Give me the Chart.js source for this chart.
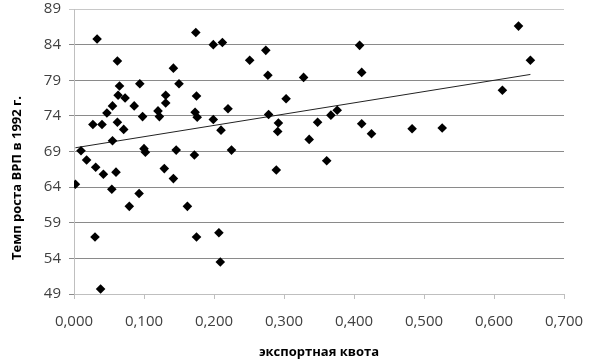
<!DOCTYPE html>
<html>
<head>
<meta charset="utf-8">
<script src="https://cdn.jsdelivr.net/npm/chart.js@4"></script>
<style>
  html, body { margin: 0; padding: 0; background: #fff; }
  #wrap { width: 600px; height: 360px; }
</style>
</head>
<body>
<div id="wrap"><canvas id="scatter"></canvas></div>
<script>
// export quota (x) and GRP growth rate in 1992 (y)
const exportQuota = [
  0.010, 0.033, 0.027, 0.040, 0.062, 0.047, 0.055, 0.065, 0.063, 0.073,
  0.062, 0.071, 0.055, 0.086, 0.094, 0.098, 0.100, 0.102, 0.120, 0.122,
  0.131, 0.131, 0.142, 0.150, 0.146, 0.018, 0.031, 0.042, 0.060, 0.002,
  0.054, 0.093, 0.079, 0.030, 0.038, 0.129, 0.142, 0.162, 0.174, 0.199,
  0.212, 0.251, 0.274, 0.277, 0.328, 0.175, 0.173, 0.176, 0.199, 0.210,
  0.220, 0.225, 0.172, 0.278, 0.292, 0.291, 0.303, 0.289, 0.175, 0.207,
  0.209, 0.408, 0.411, 0.348, 0.336, 0.367, 0.376, 0.411, 0.425, 0.483,
  0.526, 0.361, 0.635, 0.652, 0.612
];
const grpGrowth = [
  69.1, 84.8, 72.8, 72.8, 81.7, 74.4, 75.4, 78.2, 76.9, 76.5,
  73.1, 72.1, 70.5, 75.4, 78.5, 73.9, 69.4, 68.9, 74.7, 73.9,
  76.9, 75.8, 80.7, 78.5, 69.2, 67.8, 66.8, 65.8, 66.1, 64.4,
  63.7, 63.1, 61.3, 57.0, 49.7, 66.6, 65.2, 61.3, 85.7, 84.0,
  84.3, 81.8, 83.2, 79.7, 79.4, 76.8, 74.5, 73.8, 73.5, 72.0,
  75.0, 69.2, 68.5, 74.2, 73.0, 71.8, 76.4, 66.4, 57.0, 57.6,
  53.5, 83.9, 80.1, 73.1, 70.7, 74.1, 74.8, 72.9, 71.5, 72.2,
  72.3, 67.7, 86.6, 81.8, 77.6
];

const xTicks = [0, 0.1, 0.2, 0.3, 0.4, 0.5, 0.6, 0.7];
const yTicks = [49, 54, 59, 64, 69, 74, 79, 84, 89];

const xTitle = 'экспортная квота';
const yTitle = 'Темп роста ВРП в 1992 г.';

// linear trend (least squares), like the Excel trendline
function trend(xs, ys) {
  const n = xs.length;
  let sx = 0, sy = 0, sxx = 0, sxy = 0;
  for (let i = 0; i < n; i++) {
    sx += xs[i]; sy += ys[i]; sxx += xs[i] * xs[i]; sxy += xs[i] * ys[i];
  }
  const b = (n * sxy - sx * sy) / (n * sxx - sx * sx);
  const a = (sy - b * sx) / n;
  const x0 = Math.min(...xs), x1 = Math.max(...xs);
  return [{x: x0, y: a + b * x0}, {x: x1, y: a + b * x1}];
}

const points = exportQuota.map((x, i) => ({x: x, y: grpGrowth[i]}));
const font = "'Open Sans', 'Liberation Sans', sans-serif";

// y axis title drawn by hand so it sits where Excel put it
const yTitlePlugin = {
  id: 'yTitle',
  afterDraw(chart) {
    const ctx = chart.ctx;
    ctx.save();
    ctx.translate(17, 178);
    ctx.rotate(-Math.PI / 2);
    ctx.font = 'bold 13px ' + font;
    ctx.fillStyle = '#000';
    ctx.textAlign = 'center';
    ctx.textBaseline = 'middle';
    ctx.fillText(yTitle, 0, 0);
    ctx.restore();
  }
};

new Chart(document.getElementById('scatter'), {
  type: 'scatter',
  data: {
    datasets: [{
      data: points,
      pointStyle: 'rectRot',
      pointRadius: 4.8,
      pointHoverRadius: 4.8,
      backgroundColor: '#000',
      borderColor: '#000',
      borderWidth: 0,
      order: 1
    }, {
      type: 'line',
      data: trend(exportQuota, grpGrowth),
      borderColor: '#222',
      borderWidth: 1,
      pointRadius: 0,
      fill: false,
      order: 2
    }]
  },
  options: {
    responsive: true,
    maintainAspectRatio: false,
    animation: false,
    layout: { padding: { top: 9, right: 36, bottom: 0, left: 0 } },
    plugins: { legend: { display: false }, tooltip: { enabled: false } },
    scales: {
      x: {
        type: 'linear',
        min: 0,
        max: 0.7,
        afterBuildTicks(scale) { scale.ticks = xTicks.map(v => ({value: v})); },
        afterFit(scale) { scale.height = 66; },
        border: { color: '#bfbfbf' },
        grid: { drawOnChartArea: false, drawTicks: true, tickLength: 5, color: '#bfbfbf' },
        ticks: {
          padding: 14,
          maxRotation: 0,
          color: '#404040',
          font: { family: font, size: 15 },
          callback: v => v.toFixed(3).replace('.', ',')
        },
        title: {
          display: true,
          text: xTitle,
          color: '#000',
          font: { family: font, size: 13, weight: 'bold' },
          padding: { top: 0, bottom: 0 }
        }
      },
      y: {
        min: 49,
        max: 89,
        afterBuildTicks(scale) { scale.ticks = yTicks.map(v => ({value: v})); },
        afterFit(scale) {
          scale.width = 74;
          // label overhang only, without the tick padding
          scale.paddingTop = 0;
          scale.paddingBottom = 0;
        },
        border: { color: '#bfbfbf' },
        grid: {
          tickLength: 5,
          color: ctx => ctx.tick && ctx.tick.value === 89 ? '#c8c8c8' : '#8a8a8a'
        },
        ticks: {
          padding: 8,
          color: '#404040',
          font: { family: font, size: 15 }
        }
      }
    }
  },
  plugins: [yTitlePlugin]
});
</script>
</body>
</html>
